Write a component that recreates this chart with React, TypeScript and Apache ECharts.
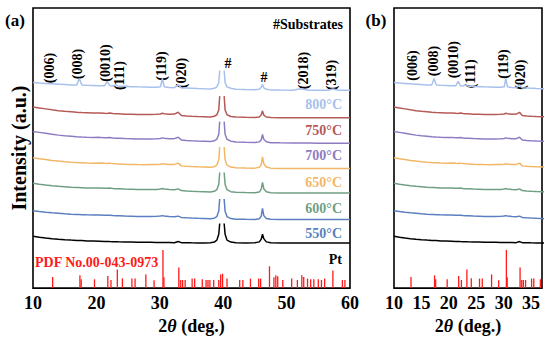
import React, { useEffect, useRef } from 'react';
import * as echarts from 'echarts';

// 2θ grid shared by all measured patterns (null at 39.8 = truncated substrate peak top)
const twoTheta = [10, 11, 12, 13, 14, 15, 16, 16.9, 17.3, 17.7, 18.5, 19.5, 20.5, 21.3, 21.7, 22.1, 22.6, 23.0, 23.5, 24.5, 25.5, 26.5, 27.5, 28.5, 29.5, 30.1, 30.4, 30.7, 31.5, 32.3, 32.9, 33.4, 34.2, 35, 36, 37, 38, 38.6, 39.0, 39.3, 39.45, 39.8, 40.15, 40.3, 40.6, 41.2, 42, 43.5, 45, 45.7, 46.0, 46.2, 46.4, 46.8, 47.5, 49, 51, 52.2, 53.5, 55, 56.5, 57.3, 58.2, 60];

const i800 = [210, 209.4, 209, 208.6, 208.2, 207.8, 207.4, 207.5, 214, 207.5, 207, 206.8, 206.5, 206.7, 211, 206.7, 206.4, 207.5, 206.2, 206, 205.7, 205.5, 205.4, 205.2, 205, 205.5, 214, 205.5, 204.8, 204.6, 207.5, 204.4, 204.2, 204, 203.7, 203.5, 203.4, 204, 205.5, 210, 222, null, 222, 210, 205.5, 204, 203, 202.7, 202.6, 203, 205, 208, 204.5, 203, 202.4, 202.2, 202.1, 203.5, 202.1, 202, 202, 203.2, 202, 202];
const i750 = [185, 184, 183, 182, 181.2, 180.5, 180, 179.5, 179.4, 179.2, 179, 178.7, 178.8, 178.5, 178.4, 178.8, 178.3, 178, 177.9, 177.6, 177.4, 177.2, 177.2, 177.3, 177.5, 177.8, 178.5, 178, 177.4, 177.7, 179.5, 176.2, 175.8, 175.5, 175.2, 175, 174.8, 175.4, 177, 182, 196, null, 196, 182, 177, 175.2, 174.6, 174.4, 174.3, 174.8, 177, 181, 176.5, 174.8, 174.2, 174, 174, 174, 174, 174, 173.9, 174, 174, 174];
const i700 = [160, 159, 158, 157, 156.2, 155.5, 155, 154.5, 154.4, 154.2, 154, 153.8, 153.9, 153.6, 153.5, 153.8, 153.3, 153.1, 153, 152.7, 152.5, 152.3, 152.2, 152.3, 152.5, 152.8, 153.4, 153, 152.4, 152.6, 154, 151.3, 150.8, 150.5, 150.2, 150, 149.8, 150.4, 152, 157, 170, null, 170, 157, 152, 150, 149.2, 148.8, 148.6, 149.3, 151.5, 157, 152, 149.5, 148.5, 148.3, 148.2, 148.2, 148.1, 148, 148, 148, 148, 148];
const i650 = [133, 132, 131.2, 130.4, 129.7, 129.1, 128.6, 128.2, 128.1, 128, 127.8, 127.6, 127.7, 127.4, 127.3, 127.6, 127.1, 126.9, 126.8, 126.5, 126.3, 126.1, 126, 126.1, 126.2, 126.5, 127, 126.6, 126.1, 126.3, 127.6, 124.8, 124.4, 124.1, 123.8, 123.6, 123.4, 124, 125.6, 131, 144, null, 144, 131, 125.6, 123.6, 122.9, 122.6, 122.5, 123.3, 126, 134, 127, 123.6, 122.5, 122.2, 122.1, 122.1, 122, 122, 122, 122, 122, 122];
const i600 = [107, 106.1, 105.3, 104.6, 104, 103.5, 103, 102.7, 102.6, 102.5, 102.3, 102.1, 102.2, 101.9, 101.9, 102.3, 101.8, 101.5, 101.4, 101.1, 100.9, 100.7, 100.6, 100.7, 100.8, 101.1, 101.6, 101.2, 100.6, 100.5, 101.3, 99.6, 99.2, 98.9, 98.6, 98.4, 98.2, 98.8, 100.5, 106, 118, null, 118, 106, 100.5, 98.5, 97.8, 97.5, 97.4, 98.2, 101, 108, 101.5, 98.4, 97.4, 97.2, 97.1, 97.1, 97, 97, 97, 97, 97, 97];
const i550 = [79, 78.2, 77.5, 76.9, 76.4, 75.9, 75.5, 75.2, 75.1, 75, 74.8, 74.6, 74.6, 74.4, 74.3, 74.4, 74.1, 73.9, 73.8, 73.5, 73.3, 73.1, 73, 73.1, 73.3, 73.6, 74, 73.6, 73, 72.9, 73.5, 72.2, 71.8, 71.5, 71.2, 71, 70.8, 71.4, 73, 78.5, 91, null, 91, 78.5, 73, 71, 70.4, 70.2, 70.1, 70.8, 73.5, 81.3, 74, 71, 70.2, 70, 70, 70, 70, 70, 70, 70, 70, 70];
const iPt = [53, 52, 51.2, 50.5, 49.9, 49.4, 49, 48.7, 48.6, 48.5, 48.2, 48, 47.8, 47.6, 47.6, 47.5, 47.4, 47.3, 47.2, 47.1, 47, 46.9, 46.8, 46.7, 46.6, 46.6, 46.6, 46.5, 46.5, 46.4, 47.5, 46.4, 46.3, 46.2, 46.1, 46.1, 46.2, 47, 49, 55, 66, null, 66, 55, 49, 47, 46.3, 46.1, 46.2, 47.2, 50, 55, 50.5, 47.2, 46.3, 46.1, 46, 46, 46, 46, 46, 46, 46, 46];

// PDF No.00-043-0973 reference lines
const pdfAngles = [13.1, 17.4, 17.6, 19.7, 21.8, 22.3, 23.3, 24.1, 25.6, 26.1, 27.8, 29.1, 30.5, 30.65, 33.0, 33.3, 33.6, 34.0, 35.1, 35.5, 36.7, 37.3, 37.6, 37.9, 38.5, 39.3, 39.6, 39.9, 40.6, 42.6, 43.1, 44.3, 45.6, 45.9, 47.3, 48.0, 48.3, 48.6, 49.4, 50.8, 51.7, 52.4, 52.7, 53.3, 53.8, 54.3, 55.0, 55.5, 56.0, 57.3, 58.8, 59.2];
const pdfIntensity = [11.3, 13, 9, 9, 12.3, 8.3, 19, 10, 9.7, 9.7, 14, 8, 39, 11, 21, 8.3, 8.3, 8.3, 9.7, 9.7, 9, 8.3, 8.3, 8.3, 8.3, 8.3, 14, 14.7, 9.7, 8.3, 8.3, 9.7, 9.7, 9.7, 22.3, 11, 13, 12, 8.3, 9.7, 8.3, 13, 11.3, 9.7, 9, 9, 9, 8.3, 9.7, 18, 8.3, 8.3];

const sampleNames = ['800°C', '750°C', '700°C', '650°C', '600°C', '550°C', 'Pt'];
const sampleData = [i800, i750, i700, i650, i600, i550, iPt];
const sampleColors = ['#a8c1ec', '#b65a57', '#8e7cc3', '#f2b766', '#6f9f83', '#5b7fc0', '#000000'];

const peakLabelsA = ['(006)', '(008)', '(0010)', '(111)', '(119)', '(020)', '(2018)', '(319)'];
const peakLabelsB = ['(006)', '(008)', '(0010)', '(111)', '(119)', '(020)'];

const FONT = 'Liberation Serif';

export default function App() {
  const ref = useRef<HTMLDivElement>(null);
  useEffect(() => {
    if (!ref.current) return;
    const chart = echarts.init(ref.current, undefined, { renderer: 'svg' });

    const toPairs = (ys: (number | null)[]) => twoTheta.map((x, k) => [x, ys[k] === null ? '-' : ys[k]]);
    const pdf = pdfAngles.map((x, k) => [x, pdfIntensity[k]]);

    const series: any[] = [];
    [0, 1].forEach((p) => {
      series.push({
        type: 'bar',
        xAxisIndex: p,
        yAxisIndex: p,
        data: pdf,
        barWidth: 1.3,
        itemStyle: { color: '#ff1a1a' },
        silent: true,
      });
      for (let s = sampleData.length - 1; s >= 0; s--) {
        series.push({
          type: 'line',
          name: sampleNames[s],
          xAxisIndex: p,
          yAxisIndex: p,
          data: toPairs(sampleData[s]),
          showSymbol: false,
          connectNulls: false,
          lineStyle: { color: sampleColors[s], width: 1.5 },
          silent: true,
        });
      }
    });

    const txt = (text: string, x: number, y: number, opts: any = {}) => ({
      type: 'text',
      x,
      y,
      rotation: opts.rotate ? Math.PI / 2 : 0,
      style: {
        text,
        fill: opts.color || '#000',
        fontFamily: FONT,
        fontWeight: 'bold',
        fontSize: opts.size || 14,
        align: opts.align || 'center',
        verticalAlign: 'middle',
      },
      silent: true,
    });

    const posA = [[49.5, 68], [77.5, 64], [105, 63], [119, 75.5], [161.7, 66], [181, 73], [303, 70.5], [331, 75]];
    const posB = [[412, 65.5], [433.7, 61], [453, 59.7], [470.8, 73.8], [503, 64], [520, 74.7]];
    const legendY = [104, 130, 155, 182, 208, 233, 259];

    const graphics: any[] = [];
    peakLabelsA.forEach((t, k) => graphics.push(txt(t, posA[k][0], posA[k][1], { rotate: true })));
    peakLabelsB.forEach((t, k) => graphics.push(txt(t, posB[k][0], posB[k][1], { rotate: true })));
    graphics.push(txt('#', 228, 63));
    graphics.push(txt('#', 264, 77.5));
    graphics.push(txt('#Substrates', 343, 24, { align: 'right' }));
    graphics.push(txt('(a)', 15, 20, { size: 17 }));
    graphics.push(txt('(b)', 376, 20, { size: 17 }));
    graphics.push(txt('PDF No.00-043-0973', 35, 262, { align: 'left', color: '#ff1a1a' }));
    sampleNames.forEach((n, k) => graphics.push(txt(n, 342, legendY[k], { align: 'right', color: sampleColors[k] })));

    const xAxisCommon = {
      type: 'value',
      axisTick: { show: false },
      splitLine: { show: false },
      axisLine: { show: false },
      axisLabel: { fontFamily: FONT, fontWeight: 'bold', fontSize: 18, color: '#000', margin: 6 },
      name: '2{i|θ} (deg.)',
      nameLocation: 'middle',
      nameGap: 17,
      nameTextStyle: {
        fontFamily: FONT, fontWeight: 'bold', fontSize: 18, color: '#000',
        rich: { i: { fontFamily: FONT, fontWeight: 'bold', fontStyle: 'italic', fontSize: 18, color: '#000' } },
      },
    };

    chart.setOption({
      animation: false,
      grid: [
        { left: 33, top: 8, width: 317, height: 286, show: true, borderColor: '#000', borderWidth: 1.6, backgroundColor: 'transparent' },
        { left: 394, top: 8, width: 148, height: 286, show: true, borderColor: '#000', borderWidth: 1.6, backgroundColor: 'transparent' },
      ],
      xAxis: [
        { ...xAxisCommon, gridIndex: 0, min: 10, max: 60, interval: 10 },
        { ...xAxisCommon, gridIndex: 1, min: 10, max: 37, interval: 5, axisLabel: { ...xAxisCommon.axisLabel, showMaxLabel: false } },
      ],
      yAxis: [
        {
          type: 'value', gridIndex: 0, min: 0, max: 286,
          axisLine: { show: false }, axisTick: { show: false }, axisLabel: { show: false }, splitLine: { show: false },
          name: 'Intensity (a.u.)', nameLocation: 'middle', nameGap: 4, nameRotate: 90,
          nameTextStyle: { fontFamily: FONT, fontWeight: 'bold', fontSize: 20, color: '#000' },
        },
        {
          type: 'value', gridIndex: 1, min: 0, max: 286,
          axisLine: { show: false }, axisTick: { show: false }, axisLabel: { show: false }, splitLine: { show: false },
        },
      ],
      series,
      graphic: graphics,
    });
    return () => chart.dispose();
  }, []);
  return <div ref={ref} style={{ position: 'fixed', left: 0, top: 0, width: 550, height: 340, background: '#fff' }} />;
}
